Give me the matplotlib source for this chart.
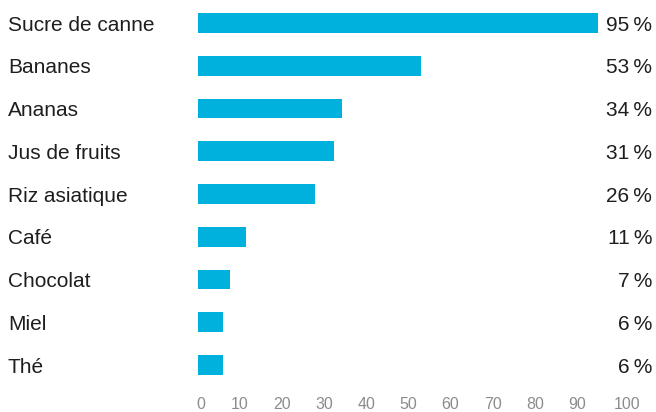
import matplotlib.pyplot as plt
import matplotlib.transforms as mtransforms

categories = ['Sucre de canne', 'Bananes', 'Ananas', 'Jus de fruits', 'Riz asiatique',
              'Café', 'Chocolat', 'Miel', 'Thé']
# bar lengths as drawn in the picture (they don't all match the printed labels)
values = [95, 53, 34.2, 32.3, 27.8, 11.5, 7.6, 6, 6]
value_labels = ['95', '53', '34', '31', '26', '11', '7', '6', '6']
ticks = [0, 10, 20, 30, 40, 50, 60, 70, 80, 90, 100]

W, H = 656, 412
fig = plt.figure(figsize=(W / 100, H / 100), dpi=100)
# axes from px 198 to 619 horizontally, 1.6 to 386.4 vertically
ax = fig.add_axes([198 / W, 1 - 386.4 / H, 421 / W, 384.8 / H])

bar_color = '#00b1de'
font = ['Liberation Sans', 'DejaVu Sans']

y = list(range(len(categories)))
ax.barh(y, values, height=0.46, color=bar_color, align='center')
ax.set_xlim(0, 100)
ax.set_ylim(len(categories) - 0.5, -0.5)

# labels: baseline a bit below bar centre so caps sit centred on the bar
fig_x = mtransforms.blended_transform_factory(fig.transFigure, ax.transData)
for i, (cat, lab) in enumerate(zip(categories, value_labels)):
    ax.text(8 / W, i + 0.18, cat, transform=fig_x, ha='left', va='baseline',
            fontsize=15, color='#1e1e1e', family=font)
    ax.text(652 / W, i + 0.18, f'{lab}\u2009%', transform=fig_x, ha='right', va='baseline',
            fontsize=15, color='#1e1e1e', family=font)

ax.set_xticks(ticks)
ax.set_xticklabels([str(t) for t in ticks], fontsize=11.5, color='#8c8c8c', family=font)
ax.tick_params(axis='x', length=0, pad=7.8)
labels = ax.get_xticklabels()
labels[0].set_transform(labels[0].get_transform()
                        + mtransforms.ScaledTranslation(3 / 100, 0, fig.dpi_scale_trans))
labels[-1].set_transform(labels[-1].get_transform()
                         + mtransforms.ScaledTranslation(8 / 100, 0, fig.dpi_scale_trans))
ax.set_yticks([])
for s in ax.spines.values():
    s.set_visible(False)

fig.savefig('out.png', dpi=100)
